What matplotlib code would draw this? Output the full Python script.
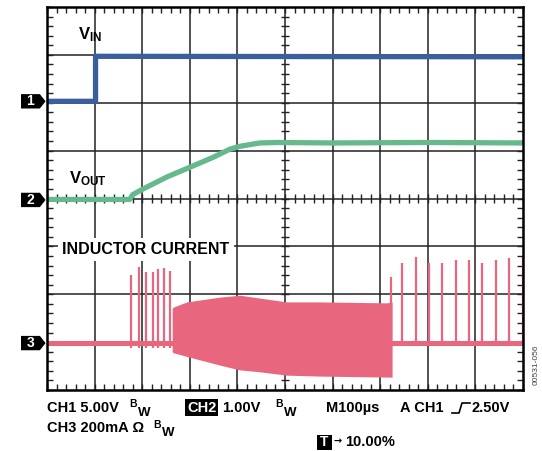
import numpy as np
import matplotlib
matplotlib.use("Agg")
import matplotlib.pyplot as plt
from matplotlib.patches import Polygon, Rectangle
from matplotlib.lines import Line2D

plt.rcParams['font.family'] = ['Liberation Sans', 'DejaVu Sans']
plt.rcParams['font.weight'] = 'bold'
plt.rcParams['mathtext.fontset'] = 'custom'
plt.rcParams['mathtext.bf'] = 'Liberation Sans:bold'
plt.rcParams['mathtext.rm'] = 'Liberation Sans:bold'

# time axis in divisions (M100us -> 100 us/div), levels in screen divisions
vin_t = [0.0, 1.02, 1.02, 10.0]
vin_v = [6.03, 6.03, 6.97, 6.96]

vout_t = [0.0, 1.74, 1.80, 2.02, 2.52, 3.02, 3.49, 3.84, 4.05, 4.47, 4.83, 6.0, 8.0, 10.0]
vout_v = [3.98, 3.98, 4.08, 4.20, 4.45, 4.66, 4.86, 5.03, 5.09, 5.16, 5.17, 5.16, 5.17, 5.16]

il_base = 0.99
pre_t = [1.76, 1.93, 2.08, 2.23, 2.33, 2.46, 2.58]
pre_h = [2.40, 2.57, 2.46, 2.46, 2.52, 2.54, 2.48]
post_t = [7.23, 7.46, 7.75, 8.03, 8.30, 8.59, 8.87, 9.14, 9.43, 9.71, 9.99]
post_h = [2.36, 2.65, 2.78, 2.65, 2.65, 2.71, 2.71, 2.65, 2.71, 2.76, 2.78]

burst_t = [2.63, 2.65, 2.94, 3.63, 4.05, 4.47, 5.04, 5.74, 7.14, 7.25]
burst_hi = [1.70, 1.73, 1.84, 1.94, 1.98, 1.92, 1.84, 1.84, 1.82, 1.84]
burst_lo = [0.80, 0.78, 0.70, 0.52, 0.42, 0.38, 0.31, 0.29, 0.27, 0.27]

ch_levels = [6.03, 3.97, 0.98]
ch_names = ['1', '2', '3']

blue = '#3b5f9c'
green = '#66b98d'
pink = '#e8677e'

W, H = 542, 451
fig = plt.figure(figsize=(W / 100, H / 100), dpi=100)
ax = fig.add_axes([47 / W, (H - 390) / H, 476 / W, 383 / H])
ax.set_xlim(0, 10)
ax.set_ylim(0, 8)

# graticule
for x in range(1, 10):
    ax.axvline(x, color='#222222', lw=1.1, zorder=1)
for y in range(1, 8):
    ax.axhline(y, color='#222222', lw=1.1, zorder=1)
mx = np.arange(0, 10.01, 0.2)
my = np.arange(0, 8.01, 0.2)
ax.vlines(mx, 4 - 0.085, 4 + 0.085, color='#222222', lw=1.0, zorder=1)
ax.hlines(my, 5 - 0.085, 5 + 0.085, color='#222222', lw=1.0, zorder=1)

ax.set_xticks([])
ax.set_yticks([])
ax.set_xticks(mx, minor=True)
ax.set_yticks(my, minor=True)
ax.tick_params(which='minor', direction='in', length=4, width=1.0, color='#222222',
               top=True, right=True, bottom=True, left=True,
               labelbottom=False, labelleft=False)
for s in ax.spines.values():
    s.set_linewidth(1.8)
    s.set_color('black')
    s.set_zorder(6)

# traces
ax.plot(vin_t, vin_v, color=blue, lw=3.8, solid_capstyle='butt', zorder=3)
ax.plot(vout_t, vout_v, color=green, lw=3.8, solid_capstyle='butt', zorder=3)
ax.plot([0, 10], [il_base, il_base], color=pink, lw=3.6, solid_capstyle='butt', zorder=3)
ax.vlines(pre_t, il_base - 0.12, pre_h, color=pink, lw=1.6, zorder=3)
ax.vlines(post_t, il_base - 0.06, post_h, color=pink, lw=1.6, zorder=3)
ax.fill_between(burst_t, burst_lo, burst_hi, color=pink, lw=0, zorder=3)

# labels on screen
ax.text(0.65, 7.33, r'$\mathbf{V_{IN}}$', fontsize=12, va='baseline', ha='left', zorder=7)
ax.text(0.46, 4.32, r'$\mathbf{V_{OUT}}$', fontsize=12, va='baseline', ha='left', zorder=7)
ax.text(0.32, 2.94, 'INDUCTOR CURRENT', fontsize=11.5, va='center', ha='left', zorder=7,
        bbox=dict(facecolor='white', edgecolor='none', pad=3))

# channel markers
for lv, nm in zip(ch_levels, ch_names):
    hh = 0.15
    poly = Polygon([(-0.546, lv - hh), (-0.15, lv - hh), (-0.03, lv),
                    (-0.15, lv + hh), (-0.546, lv + hh)],
                   closed=True, facecolor='black', edgecolor='none', clip_on=False, zorder=7)
    ax.add_patch(poly)
    ax.text(-0.35, lv, nm, color='white', fontsize=10, ha='center', va='center',
            clip_on=False, zorder=8)


def ft(x, y, s, **kw):
    kw.setdefault('fontsize', 10.5)
    kw.setdefault('va', 'center')
    kw.setdefault('ha', 'left')
    fig.text(x / W, 1 - y / H, s, **kw)


# status text
ft(47, 408, 'CH1 5.00V')
ft(129, 404, 'B', fontsize=7.5)
ft(138, 412.5, 'W', fontsize=9.5)
ft(187, 407.5, 'CH2', color='white',
   bbox=dict(facecolor='black', edgecolor='none', pad=1.2))
ft(222, 408, '1.00V')
ft(275, 404, 'B', fontsize=7.5)
ft(284, 412.5, 'W', fontsize=9.5)
ft(326, 408, 'M100µs')
ft(400, 408, 'A CH1')
ft(472, 408, '2.50V')
fig.add_artist(Line2D(np.array([452, 459, 462, 470]) / W,
                      1 - np.array([413, 413, 403, 403]) / H,
                      color='black', lw=1.2))
ft(47, 428, 'CH3 200mA Ω')
ft(153, 424.5, 'B', fontsize=7.5)
ft(162, 432.5, 'W', fontsize=9.5)
fig.add_artist(Rectangle((317 / W, 1 - 450 / H), 15 / W, 15 / H,
                         facecolor='black', edgecolor='none'))
ft(324.5, 442.5, 'T', color='white', ha='center', fontsize=10)
ft(333, 441, '→', fontsize=7, family='DejaVu Sans')
ft(345, 442.5, '10.00%')
ft(536, 365, '00531-056', fontsize=6, rotation=90, color='#444444',
   weight='normal', ha='center')

fig.savefig('out.png', dpi=100)
